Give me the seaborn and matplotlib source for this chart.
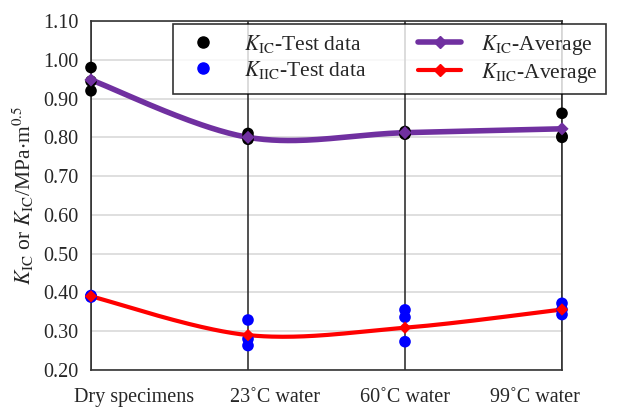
import numpy as np
import pandas as pd
import matplotlib
matplotlib.use("Agg")
import matplotlib.pyplot as plt
from matplotlib.lines import Line2D
from matplotlib.transforms import ScaledTranslation
import seaborn as sns

# ---- data ----
conditions = ["Dry specimens", "23\u02daC water", "60\u02daC water", "99\u02daC water"]
kic_test = [[0.980, 0.920, 0.945], [0.810, 0.800, 0.795], [0.815, 0.810, 0.808], [0.862, 0.803, 0.800]]
kiic_test = [[0.392, 0.388, 0.390], [0.329, 0.280, 0.263], [0.355, 0.336, 0.273], [0.372, 0.356, 0.343]]
kic_avg = [0.948, 0.800, 0.812, 0.822]
kiic_avg = [0.390, 0.290, 0.309, 0.356]
y_ticks = [0.20, 0.30, 0.40, 0.50, 0.60, 0.70, 0.80, 0.90, 1.00, 1.10]


def smooth(y, n=60, tension=0.5):
    # cardinal spline through the points, like a spreadsheet "smoothed line"
    y = np.asarray(y, dtype=float)
    x = np.arange(len(y), dtype=float)
    px = np.concatenate([[x[0]], x, [x[-1]]])
    py = np.concatenate([[y[0]], y, [y[-1]]])
    xs, ys = [], []
    for i in range(1, len(px) - 2):
        t = np.linspace(0, 1, n)
        m0x = tension * (px[i + 1] - px[i - 1]); m1x = tension * (px[i + 2] - px[i])
        m0y = tension * (py[i + 1] - py[i - 1]); m1y = tension * (py[i + 2] - py[i])
        h00 = 2 * t**3 - 3 * t**2 + 1; h10 = t**3 - 2 * t**2 + t
        h01 = -2 * t**3 + 3 * t**2; h11 = t**3 - t**2
        xs.append(h00 * px[i] + h10 * m0x + h01 * px[i + 1] + h11 * m1x)
        ys.append(h00 * py[i] + h10 * m0y + h01 * py[i + 1] + h11 * m1y)
    return np.concatenate(xs), np.concatenate(ys)


rows = []
for i, vals in enumerate(kic_test):
    for v in vals:
        rows.append({"x": i, "y": v, "kind": "KIC"})
for i, vals in enumerate(kiic_test):
    for v in vals:
        rows.append({"x": i, "y": v, "kind": "KIIC"})
test_df = pd.DataFrame(rows)

sns.set_style("white")
plt.rcParams["font.family"] = ["Liberation Serif", "DejaVu Serif"]
plt.rcParams["mathtext.fontset"] = "stix"

fig = plt.figure(figsize=(6.3, 4.09), dpi=100)
ax = fig.add_axes([91 / 630, 1 - 370 / 409, (562 - 91) / 630, (370 - 21) / 409])

purple = "#7030A0"
red = "#FF0000"

# smoothed average curves
sx, sy = smooth(kic_avg)
sns.lineplot(x=sx, y=sy, ax=ax, color=purple, lw=4, sort=False, zorder=3)
sx, sy = smooth(kiic_avg)
sns.lineplot(x=sx, y=sy, ax=ax, color=red, lw=3, sort=False, zorder=3)

# test data points
sns.scatterplot(data=test_df, x="x", y="y", hue="kind",
                palette={"KIC": "black", "KIIC": "#0000FF"},
                s=70, edgecolor="none", legend=False, ax=ax, zorder=4, clip_on=False)

# average markers
avg_x = np.arange(len(conditions))
sns.scatterplot(x=avg_x, y=kic_avg, marker="D", color=purple, s=45, edgecolor="none",
                ax=ax, zorder=5, clip_on=False)
sns.scatterplot(x=avg_x, y=kiic_avg, marker="D", color=red, s=40, edgecolor="none",
                ax=ax, zorder=5, clip_on=False)

ax.set_xlim(0, len(conditions) - 1)
ax.set_ylim(0.20, 1.10)
ax.set_yticks(y_ticks)
ax.set_yticklabels([f"{v:.2f}" for v in y_ticks])
ax.set_xticks(avg_x)
ax.set_xticklabels(conditions)
ax.tick_params(axis="both", labelsize=14.5, length=0)
ax.tick_params(axis="x", pad=13)
ax.tick_params(axis="y", pad=9)

# category labels sit slightly inward, as in the reference
shifts = [43, 27, 0, -27]
for lab, dx in zip(ax.get_xticklabels(), shifts):
    lab.set_transform(lab.get_transform() + ScaledTranslation(dx / 100, 0, fig.dpi_scale_trans))

ax.grid(axis="y", color="#D9D9D9", lw=1.2)
for i in avg_x:
    ax.axvline(i, color="#333333", lw=1.2, zorder=1)
for s in ax.spines.values():
    s.set_color("#333333")
    s.set_linewidth(1.2)

ax.set_xlabel("")
ax.set_ylabel(r"$K_{\rm IC}$ or $K_{\rm IC}$/MPa$\cdot$m$^{0.5}$", fontsize=15.5, labelpad=5)

handles = [
    Line2D([], [], ls="none", marker="o", color="black", markersize=8),
    Line2D([], [], ls="none", marker="o", color="#0000FF", markersize=8),
    Line2D([], [], color=purple, lw=4, marker="D", markersize=6),
    Line2D([], [], color=red, lw=3, marker="D", markersize=6),
]
labels = [r"$K_{\rm IC}$-Test data", r"$K_{\rm IIC}$-Test data",
          r"$K_{\rm IC}$-Average", r"$K_{\rm IIC}$-Average"]
leg = fig.legend(handles, labels, ncol=2, loc="upper left",
                 bbox_to_anchor=(173 / 630, 1 - 24 / 409), borderaxespad=0,
                 frameon=True, fancybox=False, edgecolor="black", fontsize=15.5,
                 handlelength=2.0, columnspacing=2.4, labelspacing=0.2,
                 borderpad=0.4, handletextpad=0.9)
leg.get_frame().set_linewidth(1.2)

fig.savefig("out.png", dpi=100)
